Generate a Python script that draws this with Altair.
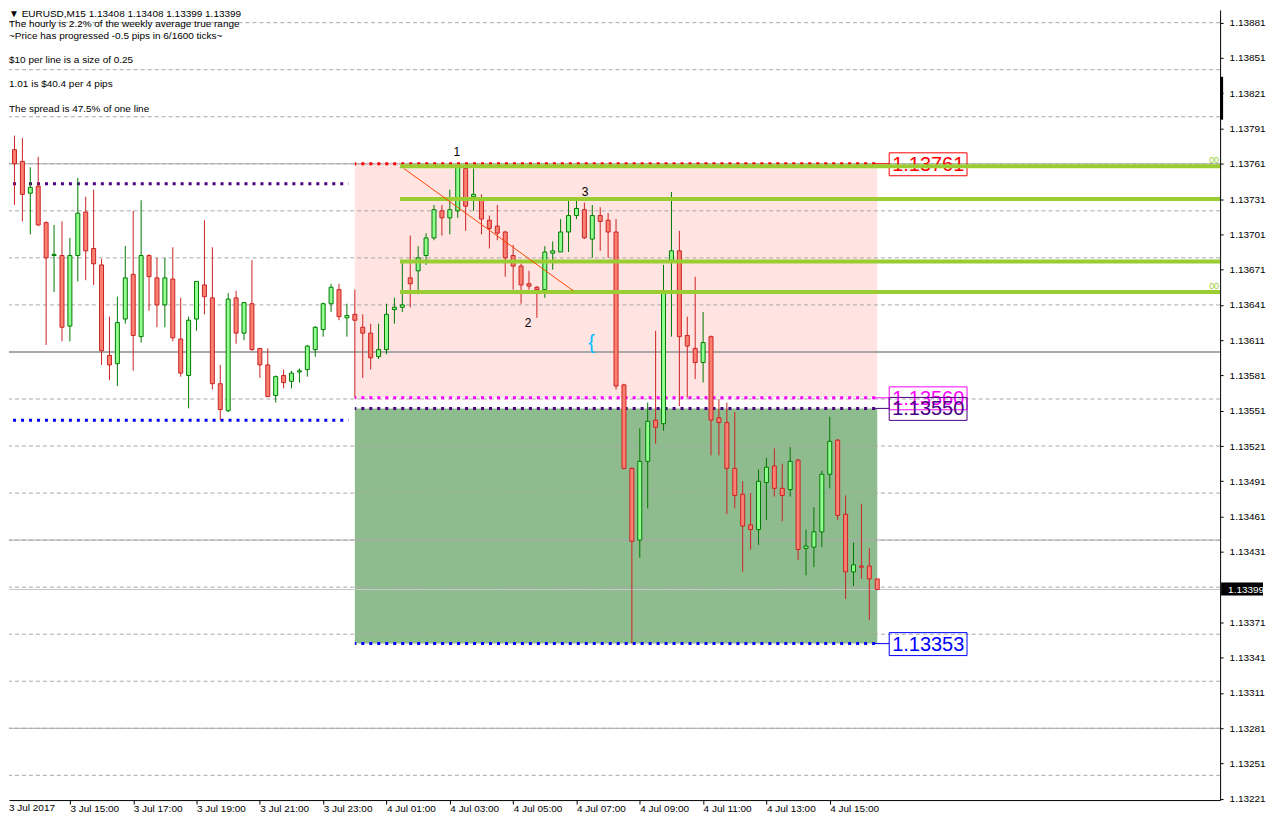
import altair as alt
import pandas as pd

# ---------------- data ----------------
# EURUSD M15 bars, index 0 = 3 Jul 2017 13:00
bar_index = list(range(111))
opens = [1.13723, 1.13773, 1.13763, 1.13736, 1.13742, 1.13711, 1.13683, 1.13683, 1.13623, 1.13683,
         1.13720, 1.13689, 1.13675, 1.13598, 1.13591, 1.13629, 1.13667, 1.13614, 1.13683, 1.13664,
         1.13641, 1.13663, 1.13612, 1.13581, 1.13629, 1.13658, 1.13647, 1.13574, 1.13551, 1.13647,
         1.13617, 1.13642, 1.13604, 1.13590, 1.13564, 1.13581, 1.13576, 1.13584, 1.13586, 1.13603,
         1.13620, 1.13642, 1.13654, 1.13630, 1.13633, 1.13622, 1.13617, 1.13597, 1.13603, 1.13637,
         1.13639, 1.13664, 1.13670, 1.13683, 1.13698, 1.13721, 1.13715, 1.13721, 1.13757, 1.13733,
         1.13731, 1.13713, 1.13708, 1.13703, 1.13683, 1.13674, 1.13659, 1.13656, 1.13654, 1.13685,
         1.13686, 1.13703, 1.13717, 1.13722, 1.13697, 1.13717, 1.13713, 1.13703, 1.13573, 1.13502,
         1.13441, 1.13508, 1.13543, 1.13540, 1.13679, 1.13687, 1.13615, 1.13604, 1.13592, 1.13614,
         1.13545, 1.13541, 1.13502, 1.13480, 1.13454, 1.13450, 1.13490, 1.13504, 1.13485, 1.13484,
         1.13509, 1.13434, 1.13435, 1.13448, 1.13497, 1.13526, 1.13463, 1.13414, 1.13419, 1.13419,
         1.13408]
highs = [1.13777, 1.13785, 1.13783, 1.13758, 1.13767, 1.13712, 1.13709, 1.13712, 1.13698, 1.13749,
         1.13733, 1.13739, 1.13680, 1.13631, 1.13648, 1.13691, 1.13721, 1.13730, 1.13684, 1.13681,
         1.13681, 1.13690, 1.13647, 1.13631, 1.13661, 1.13713, 1.13690, 1.13590, 1.13651, 1.13653,
         1.13643, 1.13679, 1.13604, 1.13604, 1.13581, 1.13586, 1.13585, 1.13587, 1.13607, 1.13623,
         1.13643, 1.13659, 1.13659, 1.13642, 1.13654, 1.13633, 1.13625, 1.13625, 1.13642, 1.13647,
         1.13679, 1.13700, 1.13691, 1.13702, 1.13726, 1.13726, 1.13739, 1.13759, 1.13761, 1.13757,
         1.13735, 1.13717, 1.13726, 1.13704, 1.13692, 1.13676, 1.13670, 1.13657, 1.13691, 1.13695,
         1.13714, 1.13730, 1.13730, 1.13728, 1.13726, 1.13724, 1.13719, 1.13714, 1.13574, 1.13503,
         1.13536, 1.13558, 1.13619, 1.13675, 1.13737, 1.13704, 1.13631, 1.13665, 1.13635, 1.13615,
         1.13561, 1.13558, 1.13550, 1.13491, 1.13481, 1.13501, 1.13511, 1.13519, 1.13506, 1.13520,
         1.13510, 1.13450, 1.13469, 1.13500, 1.13546, 1.13527, 1.13479, 1.13439, 1.13472, 1.13434,
         1.13408]
lows = [1.13706, 1.13726, 1.13712, 1.13701, 1.13708, 1.13607, 1.13652, 1.13610, 1.13610, 1.13661,
        1.13662, 1.13658, 1.13590, 1.13577, 1.13572, 1.13625, 1.13585, 1.13609, 1.13636, 1.13622,
        1.13622, 1.13610, 1.13580, 1.13553, 1.13619, 1.13633, 1.13569, 1.13543, 1.13550, 1.13608,
        1.13611, 1.13602, 1.13579, 1.13563, 1.13558, 1.13570, 1.13570, 1.13575, 1.13580, 1.13597,
        1.13614, 1.13635, 1.13628, 1.13614, 1.13562, 1.13579, 1.13586, 1.13595, 1.13599, 1.13625,
        1.13635, 1.13639, 1.13650, 1.13675, 1.13696, 1.13700, 1.13701, 1.13715, 1.13704, 1.13721,
        1.13701, 1.13689, 1.13696, 1.13665, 1.13654, 1.13642, 1.13654, 1.13630, 1.13647, 1.13671,
        1.13686, 1.13686, 1.13714, 1.13697, 1.13681, 1.13687, 1.13681, 1.13569, 1.13501, 1.13353,
        1.13426, 1.13468, 1.13523, 1.13534, 1.13614, 1.13555, 1.13562, 1.13578, 1.13575, 1.13513,
        1.13513, 1.13463, 1.13468, 1.13414, 1.13433, 1.13437, 1.13458, 1.13478, 1.13457, 1.13478,
        1.13424, 1.13411, 1.13418, 1.13435, 1.13485, 1.13458, 1.13391, 1.13402, 1.13408, 1.13373,
        1.13399]
closes = [1.13775, 1.13761, 1.13735, 1.13741, 1.13709, 1.13681, 1.13684, 1.13622, 1.13683, 1.13719,
          1.13687, 1.13676, 1.13602, 1.13590, 1.13626, 1.13664, 1.13615, 1.13683, 1.13665, 1.13641,
          1.13664, 1.13613, 1.13583, 1.13628, 1.13661, 1.13648, 1.13574, 1.13552, 1.13646, 1.13617,
          1.13643, 1.13603, 1.13590, 1.13563, 1.13580, 1.13575, 1.13583, 1.13585, 1.13606, 1.13622,
          1.13642, 1.13656, 1.13631, 1.13632, 1.13628, 1.13617, 1.13596, 1.13603, 1.13633, 1.13639,
          1.13641, 1.13659, 1.13681, 1.13698, 1.13722, 1.13715, 1.13722, 1.13758, 1.13725, 1.13735,
          1.13714, 1.13706, 1.13702, 1.13681, 1.13674, 1.13658, 1.13657, 1.13654, 1.13686, 1.13687,
          1.13703, 1.13717, 1.13723, 1.13698, 1.13717, 1.13712, 1.13703, 1.13572, 1.13502, 1.13440,
          1.13508, 1.13542, 1.13537, 1.13651, 1.13687, 1.13614, 1.13606, 1.13592, 1.13609, 1.13543,
          1.13541, 1.13502, 1.13479, 1.13453, 1.13450, 1.13491, 1.13503, 1.13485, 1.13479, 1.13508,
          1.13433, 1.13436, 1.13448, 1.13497, 1.13525, 1.13462, 1.13414, 1.13420, 1.13418, 1.13408,
          1.13399]

x_tick_index = [8, 16, 24, 32, 40, 48, 56, 64, 72, 80, 88, 96, 104]
x_tick_labels = ["3 Jul 15:00", "3 Jul 17:00", "3 Jul 19:00", "3 Jul 21:00", "3 Jul 23:00",
                 "4 Jul 01:00", "4 Jul 03:00", "4 Jul 05:00", "4 Jul 07:00", "4 Jul 09:00",
                 "4 Jul 11:00", "4 Jul 13:00", "4 Jul 15:00"]
first_x_label = "3 Jul 2017"
y_tick_values = [1.13221, 1.13251, 1.13281, 1.13311, 1.13341, 1.13371, 1.13431, 1.13461,
                 1.13491, 1.13521, 1.13551, 1.13581, 1.13611, 1.13641, 1.13671, 1.13701,
                 1.13731, 1.13761, 1.13791, 1.13821, 1.13851, 1.13881]

grid_levels = [1.13241, 1.13281, 1.13321, 1.13361, 1.13401, 1.13441, 1.13481, 1.13521, 1.13561,
               1.13601, 1.13641, 1.13681, 1.13721, 1.13761, 1.13801, 1.13841, 1.13881]
round_levels = [1.13761, 1.13601, 1.13441, 1.13281]
round_widths = [1, 2, 1, 1]

# dotted levels left of the box
left_level_prices = [1.13744, 1.13543]
left_level_colors = ["#4B0082", "#0000FF"]
left_level_start, left_level_end = 0, 43.2

# dotted levels of the box (with price labels)
box_level_prices = [1.13761, 1.13562, 1.13553, 1.13353]
box_level_labels = ["1.13761", "1.13560", "1.13550", "1.13353"]
box_level_colors = ["#FF0000", "#FF00FF", "#4B0082", "#0000FF"]
box_start, box_end = 44, 110

# shaded zones
zone_top = [1.13761, 1.13553]
zone_bottom = [1.13562, 1.13353]
zone_colors = ["#FFE4E1", "#8FBC8F"]

# yellow-green horizontal lines
fib_levels = [1.13759, 1.13731, 1.13678, 1.13652]
fib_start = 49.7
fib_end = 170
fib_tag_levels = [1.13759, 1.13652]

# trend line
trend_index = [50.2, 71.6]
trend_price = [1.13757, 1.13653]

# annotations
note_text = ["1", "2", "3"]
note_index = [56.9, 65.9, 73.1]
note_price = [1.13771, 1.13626, 1.13737]
brace_index, brace_price = 73.9, 1.13609

header_lines = ["\u25bc EURUSD,M15  1.13408 1.13408 1.13399 1.13399",
                "The hourly is 2.2% of the weekly average true range",
                "~Price has progressed  -0.5  pips in 6/1600 ticks~",
                "$10 per line is a size of 0.25",
                "1.01 is $40.4 per 4 pips",
                "The spread is 47.5% of one line"]
header_y = [4, 14, 26, 50.5, 74.5, 99]

# ---------------- layout / style ----------------
W, H = 1214, 792
X0 = 0.9375
X1 = X0 + W / 8.0
PX = 8.4830e-6            # price per pixel
Y1 = 1.1389181
Y0 = Y1 - H * PX
FONT = "Liberation Sans"
BULL_LINE, BULL_FILL = "#007A00", "#90FF90"
BEAR_LINE, BEAR_FILL = "#CC2222", "#FA8072"

xs = alt.Scale(domain=[X0, X1], nice=False, zero=False)
ys = alt.Scale(domain=[Y0, Y1], nice=False, zero=False)

x_expr = " : ".join(f"datum.value == {v} ? '{t}'" for v, t in zip(x_tick_index, x_tick_labels)) + " : ''"
x_axis = alt.Axis(values=x_tick_index, labelExpr=x_expr, labelAlign="left", labelBaseline="top",
                  labelPadding=-1, labelOffset=0, tickSize=4, tickColor="black", domainColor="black",
                  labelColor="black", labelFontSize=10, labelFont=FONT, grid=False, title=None,
                  labelFlush=False, labelOverlap=False)
y_axis = alt.Axis(orient="right", values=y_tick_values, format=".5f", tickSize=3, labelPadding=6,
                  tickColor="black", domainColor="black", labelColor="black", labelFontSize=10,
                  labelFont=FONT, grid=False, title=None, labelFlush=False, labelOverlap=False)


def xq(f):
    return alt.X(f, type="quantitative", scale=xs, axis=x_axis)


def yq(f):
    return alt.Y(f, type="quantitative", scale=ys, axis=y_axis)


cd = pd.DataFrame({"i": bar_index, "o": opens, "h": highs, "l": lows, "c": closes})
bull = cd[cd.c >= cd.o]
bear = cd[cd.c < cd.o]

layers = []

# zones
for t, b, c in zip(zone_top, zone_bottom, zone_colors):
    d = pd.DataFrame({"x0": [box_start], "x1": [box_end], "t": [t], "b": [b]})
    layers.append(alt.Chart(d).mark_rect(color=c).encode(
        x=xq("x0"), x2="x1:Q", y=yq("b"), y2="t:Q"))

# grid
layers.append(alt.Chart(pd.DataFrame({"p": grid_levels})).mark_rule(
    color="#A8A8A8", strokeDash=[4, 3], strokeWidth=1).encode(y=yq("p")))

# round-number solid lines
for p, w in zip(round_levels, round_widths):
    layers.append(alt.Chart(pd.DataFrame({"p": [p]})).mark_rule(
        color="#A8A8A8", strokeWidth=w).encode(y=yq("p")))

# bid line
layers.append(alt.Chart(pd.DataFrame({"p": [closes[-1]]})).mark_rule(
    color="#C8C8C8", strokeWidth=1).encode(y=yq("p")))

# dotted lines left
for p, c in zip(left_level_prices, left_level_colors):
    d = pd.DataFrame({"a": [left_level_start], "b": [left_level_end], "p": [p]})
    layers.append(alt.Chart(d).mark_rule(
        color=c, strokeWidth=3, strokeDash=[3, 5], strokeDashOffset=1.5, clip=True).encode(
        x=xq("a"), x2="b:Q", y=yq("p")))

# dotted box levels + connectors
for p, lab, c in zip(box_level_prices, box_level_labels, box_level_colors):
    d = pd.DataFrame({"a": [box_start], "b": [box_end + 0.2], "e": [box_end], "p": [p]})
    base = alt.Chart(d)
    layers.append(base.mark_rule(color=c, strokeWidth=3, strokeDash=[3, 5],
                                 strokeDashOffset=1.5).encode(x=xq("a"), x2="b:Q", y=yq("p")))
    layers.append(base.mark_rule(color=c, strokeWidth=1, xOffset=-4, x2Offset=12).encode(
        x=xq("e"), x2="e:Q", y=yq("p")))

# candles
layers.append(alt.Chart(bull).mark_rule(color=BULL_LINE, strokeWidth=1, clip=True).encode(
    x=xq("i"), y=yq("l"), y2="h:Q"))
layers.append(alt.Chart(bear).mark_rule(color=BEAR_LINE, strokeWidth=1, clip=True).encode(
    x=xq("i"), y=yq("l"), y2="h:Q"))
layers.append(alt.Chart(bull).mark_bar(size=4, fill=BULL_FILL, stroke=BULL_LINE, strokeWidth=1,
                                       clip=True).encode(x=xq("i"), y=yq("o"), y2="c:Q"))
layers.append(alt.Chart(bear).mark_bar(size=4, fill=BEAR_FILL, stroke=BEAR_LINE, strokeWidth=1,
                                       clip=True).encode(x=xq("i"), y=yq("o"), y2="c:Q"))

# label boxes
for p, lab, c in zip(box_level_prices, box_level_labels, box_level_colors):
    d = pd.DataFrame({"e": [box_end], "p": [p], "t": [lab]})
    base = alt.Chart(d)
    layers.append(base.mark_rect(fill="white", fillOpacity=0, stroke=c, strokeWidth=1,
                                 xOffset=12, x2Offset=90, yOffset=-11, y2Offset=12).encode(
        x=xq("e"), x2="e:Q", y=yq("p"), y2="p:Q"))
    layers.append(base.mark_text(align="left", baseline="middle", dx=15, dy=1, fontSize=20,
                                 font=FONT, color=c).encode(x=xq("e"), y=yq("p"), text="t:N"))

# yellow-green lines
fd = pd.DataFrame({"a": [fib_start] * len(fib_levels), "b": [fib_end] * len(fib_levels), "p": fib_levels})
layers.append(alt.Chart(fd).mark_rule(color="#9ACD32", strokeWidth=4, clip=True).encode(
    x=xq("a"), x2="b:Q", y=yq("p")))
layers.append(alt.Chart(pd.DataFrame({"p": fib_tag_levels, "t": ["00", "00"]})).mark_text(
    align="right", baseline="bottom", dy=-1, fontSize=9, font=FONT, color="#9ACD32").encode(
    x=alt.value(W - 1), y=yq("p"), text="t:N"))

# trend line
layers.append(alt.Chart(pd.DataFrame({"i": trend_index, "p": trend_price})).mark_line(
    color="#FF4500", strokeWidth=1).encode(x=xq("i"), y=yq("p")))

# annotations
layers.append(alt.Chart(pd.DataFrame({"i": note_index, "p": note_price, "t": note_text})).mark_text(
    fontSize=12, font=FONT, color="black").encode(x=xq("i"), y=yq("p"), text="t:N"))
layers.append(alt.Chart(pd.DataFrame({"i": [brace_index], "p": [brace_price], "t": ["{"]})).mark_text(
    fontSize=20, font=FONT, color="#00BFFF").encode(x=xq("i"), y=yq("p"), text="t:N"))

# header text
for t, yy in zip(header_lines, header_y):
    layers.append(alt.Chart(pd.DataFrame({"t": [t]})).mark_text(
        align="left", baseline="middle", fontSize=10, font=FONT, color="black").encode(
        x=alt.value(0), y=alt.value(yy), text="t:N"))

# first date label
layers.append(alt.Chart(pd.DataFrame({"t": [first_x_label]})).mark_text(
    align="left", baseline="top", fontSize=10, font=FONT, color="black").encode(
    x=alt.value(0), y=alt.value(H + 3), text="t:N"))

# bid box on price axis
bd = pd.DataFrame({"p": [closes[-1]], "t": [f"{closes[-1]:.5f}"]})
layers.append(alt.Chart(bd).mark_rect(color="black", yOffset=-7, y2Offset=6).encode(
    x=alt.value(W + 1), x2=alt.value(W + 43), y=yq("p"), y2="p:Q"))
layers.append(alt.Chart(bd).mark_text(align="left", baseline="middle", fontSize=10, font=FONT,
                                      color="white").encode(x=alt.value(W + 8), y=yq("p"), text="t:N"))

# scale handle on price axis
layers.append(alt.Chart(pd.DataFrame({"k": [0]})).mark_rect(color="black").encode(
    x=alt.value(W), x2=alt.value(W + 3), y=alt.value(67), y2=alt.value(110)))

chart = alt.layer(*layers).properties(width=W, height=H, padding=0).configure(
    font=FONT).configure_view(strokeOpacity=0)

chart.save("out.html", embed_options={"renderer": "svg", "actions": False})
